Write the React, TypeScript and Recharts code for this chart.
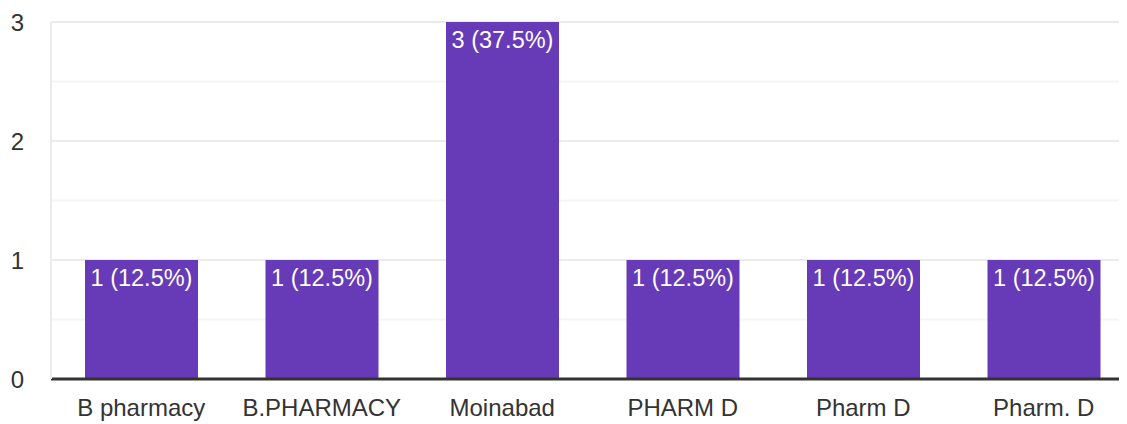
import { BarChart, Bar, XAxis, YAxis, CartesianGrid, LabelList } from 'recharts';

const categories = ['B pharmacy', 'B.PHARMACY', 'Moinabad', 'PHARM D', 'Pharm D', 'Pharm. D'];
const counts = [1, 1, 3, 1, 1, 1];
// grid every half step, labels only on whole numbers
const yTicks = [0, 0.5, 1, 1.5, 2, 2.5, 3];

const total = counts.reduce((a, b) => a + b, 0);
const data = categories.map((name, i) => ({
  name,
  count: counts[i],
  label: `${counts[i]} (${((counts[i] / total) * 100).toFixed(1)}%)`,
}));

const FONT = '"Liberation Sans", Arial, sans-serif';

const gridLine = (props: any) => {
  const minor = props.index % 2 === 1;
  return (
    <line
      key={props.key}
      x1={props.x1}
      y1={props.y1}
      x2={props.x2}
      y2={props.y2}
      stroke={minor ? '#f5f5f5' : '#ebebeb'}
      strokeWidth={2}
    />
  );
};

export default function App() {
  return (
    <div style={{ marginTop: -8, marginLeft: -8, width: 1127, height: 424, overflow: 'hidden', background: '#fff' }}>
      <BarChart
        width={1134}
        height={424}
        data={data}
        margin={{ top: 22, right: 0, bottom: 0, left: 0 }}
        style={{ fontFamily: FONT }}
      >
        <CartesianGrid vertical={false} horizontal={gridLine} />
        <XAxis
          dataKey="name"
          height={45}
          tickSize={0}
          tickMargin={20}
          axisLine={{ stroke: '#333', strokeWidth: 3 }}
          tick={{ fill: '#333', fontSize: 24 }}
          interval={0}
        />
        <YAxis
          width={51}
          domain={[0, 3]}
          ticks={yTicks}
          interval={0}
          tickFormatter={(v: number) => (Number.isInteger(v) ? String(v) : '')}
          tickSize={0}
          tickMargin={27}
          axisLine={{ stroke: '#ececec', strokeWidth: 2 }}
          tick={{ fill: '#333', fontSize: 24 }}
        />
        <Bar dataKey="count" fill="#673ab7" barSize={113} isAnimationActive={false}>
          <LabelList dataKey="label" position="insideTop" offset={9} fill="#fff" fontSize={23.5} />
        </Bar>
      </BarChart>
    </div>
  );
}
